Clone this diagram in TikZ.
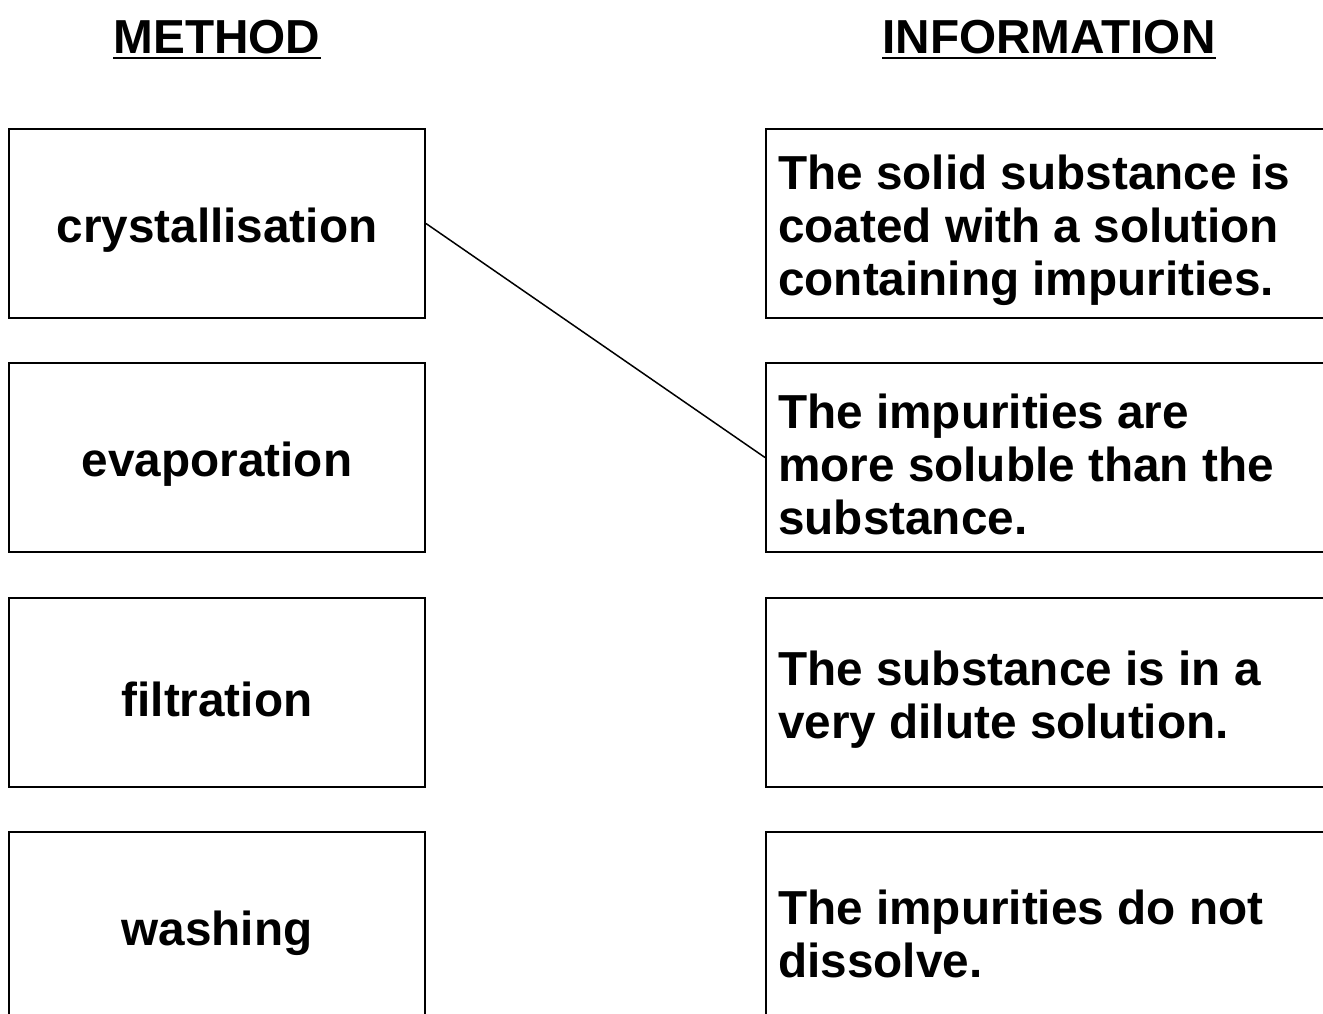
\documentclass[tikz,border=0pt]{standalone}
\usepackage{fontspec}
\setmainfont{Liberation Sans}
\begin{document}
\begin{tikzpicture}[x=1pt,y=-1pt,
  txt/.style={font=\fontsize{47.7}{53}\selectfont\bfseries},
  lbox/.style={draw, line width=2pt, minimum width=416pt, minimum height=189pt, inner sep=0pt},
  rbox/.style={draw, line width=2pt, minimum width=565pt, minimum height=189pt, inner sep=0pt, anchor=west},
  ltext/.style={txt, inner sep=0pt, align=center},
  rtext/.style={txt, inner sep=0pt, align=left, anchor=west},
  head/.style={txt, inner sep=0pt, anchor=base},
  uline/.style={line width=2pt},
  link/.style={line width=1.5pt}]
\useasboundingbox (0,0) rectangle (1323,1013);
\clip (0,0) rectangle (1323,1013);
\node[head] (hm) at (217,53) {METHOD};
\node[head] (hi) at (1049,53) {INFORMATION};
\draw[uline] ([yshift=-4.5pt]hm.base west) -- ([yshift=-4.5pt]hm.base east);
\draw[uline] ([yshift=-4.5pt]hi.base west) -- ([yshift=-4.5pt]hi.base east);
\node[lbox] (m1) at (217,223.5) {};
\node[lbox] (m2) at (217,457.5) {};
\node[lbox] (m3) at (217,692.5) {};
\node[lbox] (m4) at (217,926.5) {};
\node[ltext] (t1) at ([yshift=-7pt]m1.center) {crystallisation};
\node[ltext] (t2) at ([yshift=-7pt]m2.center) {evaporation};
\node[ltext] (t3) at ([yshift=-7pt]m3.center) {filtration};
\node[ltext] (t4) at ([yshift=-7pt]m4.center) {washing};
\node[rbox] (i1) at (765,223.5) {};
\node[rbox] (i2) at (765,457.5) {};
\node[rbox] (i3) at (765,692.5) {};
\node[rbox] (i4) at (765,926.5) {};
\node[rtext] (u1) at ([xshift=13pt,yshift=-7pt]i1.west) {The solid substance is\\coated with a solution\\containing impurities.};
\node[rtext] (u2) at ([xshift=13pt,yshift=-7pt]i2.west) {The impurities are\\more soluble than the\\substance.};
\node[rtext] (u3) at ([xshift=13pt,yshift=-7pt]i3.west) {The substance is in a\\very dilute solution.};
\node[rtext] (u4) at ([xshift=13pt,yshift=-7pt]i4.west) {The impurities do not\\dissolve.};
\draw[link] (m1.east) -- (i2.west);
\end{tikzpicture}
\end{document}
